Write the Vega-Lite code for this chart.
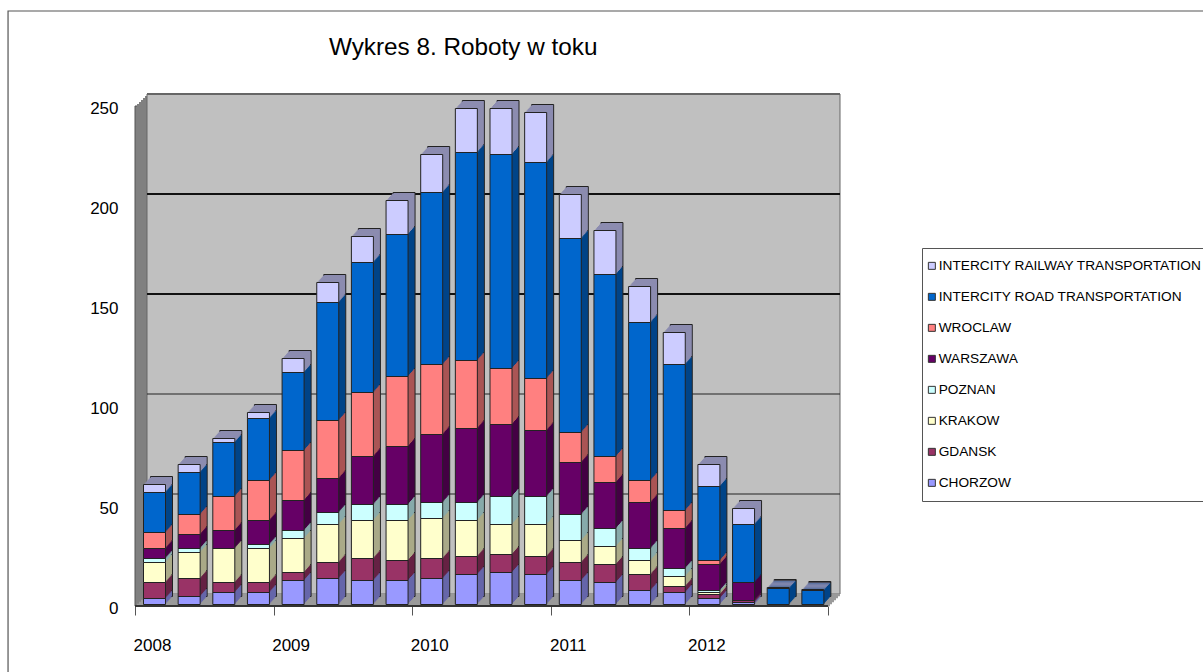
{
"$schema":"https://vega.github.io/schema/vega-lite/v6.json",
"width":693,"height":500,"autosize":"none",
"padding":{"left":135,"top":106,"right":375,"bottom":66},
"background":"white",
"view":{"stroke":null},
"config":{"font":"Liberation Sans"},
"title":{"text":"Wykres 8. Roboty w toku","anchor":"start","frame":"group","font":"Liberation Sans","fontSize":24.3,"fontWeight":"normal","color":"#000","dx":194,"dy":50,"offset":0},
"datasets":{
"wall":[{"a":2008,"b":2013,"c":0,"d":250}],
"frame":[{"a":2007.084,"b":2015.8,"c":-40,"d":297.5}],
"gridThin":[{"v":50},{"v":100}],
"gridThick":[{"v":150},{"v":200}],
"gridTop":[{"v":250}],
"rows":[
{"t":2008,"o":1,"series":"CHORZOW","value":3},{"t":2008,"o":2,"series":"GDANSK","value":8},{"t":2008,"o":3,"series":"KRAKOW","value":10},{"t":2008,"o":4,"series":"POZNAN","value":2},{"t":2008,"o":5,"series":"WARSZAWA","value":5},{"t":2008,"o":6,"series":"WROCLAW","value":8},{"t":2008,"o":7,"series":"INTERCITY ROAD TRANSPORTATION","value":20},{"t":2008,"o":8,"series":"INTERCITY RAILWAY TRANSPORTATION","value":4},
{"t":2008.25,"o":1,"series":"CHORZOW","value":4},{"t":2008.25,"o":2,"series":"GDANSK","value":9},{"t":2008.25,"o":3,"series":"KRAKOW","value":13},{"t":2008.25,"o":4,"series":"POZNAN","value":2},{"t":2008.25,"o":5,"series":"WARSZAWA","value":7},{"t":2008.25,"o":6,"series":"WROCLAW","value":10},{"t":2008.25,"o":7,"series":"INTERCITY ROAD TRANSPORTATION","value":21},{"t":2008.25,"o":8,"series":"INTERCITY RAILWAY TRANSPORTATION","value":4},
{"t":2008.5,"o":1,"series":"CHORZOW","value":6},{"t":2008.5,"o":2,"series":"GDANSK","value":5},{"t":2008.5,"o":3,"series":"KRAKOW","value":17},{"t":2008.5,"o":5,"series":"WARSZAWA","value":9},{"t":2008.5,"o":6,"series":"WROCLAW","value":17},{"t":2008.5,"o":7,"series":"INTERCITY ROAD TRANSPORTATION","value":27},{"t":2008.5,"o":8,"series":"INTERCITY RAILWAY TRANSPORTATION","value":2},
{"t":2008.75,"o":1,"series":"CHORZOW","value":6},{"t":2008.75,"o":2,"series":"GDANSK","value":5},{"t":2008.75,"o":3,"series":"KRAKOW","value":17},{"t":2008.75,"o":4,"series":"POZNAN","value":2},{"t":2008.75,"o":5,"series":"WARSZAWA","value":12},{"t":2008.75,"o":6,"series":"WROCLAW","value":20},{"t":2008.75,"o":7,"series":"INTERCITY ROAD TRANSPORTATION","value":31},{"t":2008.75,"o":8,"series":"INTERCITY RAILWAY TRANSPORTATION","value":3},
{"t":2009,"o":1,"series":"CHORZOW","value":12},{"t":2009,"o":2,"series":"GDANSK","value":4},{"t":2009,"o":3,"series":"KRAKOW","value":17},{"t":2009,"o":4,"series":"POZNAN","value":4},{"t":2009,"o":5,"series":"WARSZAWA","value":15},{"t":2009,"o":6,"series":"WROCLAW","value":25},{"t":2009,"o":7,"series":"INTERCITY ROAD TRANSPORTATION","value":39},{"t":2009,"o":8,"series":"INTERCITY RAILWAY TRANSPORTATION","value":7},
{"t":2009.25,"o":1,"series":"CHORZOW","value":13},{"t":2009.25,"o":2,"series":"GDANSK","value":8},{"t":2009.25,"o":3,"series":"KRAKOW","value":19},{"t":2009.25,"o":4,"series":"POZNAN","value":6},{"t":2009.25,"o":5,"series":"WARSZAWA","value":17},{"t":2009.25,"o":6,"series":"WROCLAW","value":29},{"t":2009.25,"o":7,"series":"INTERCITY ROAD TRANSPORTATION","value":59},{"t":2009.25,"o":8,"series":"INTERCITY RAILWAY TRANSPORTATION","value":10},
{"t":2009.5,"o":1,"series":"CHORZOW","value":12},{"t":2009.5,"o":2,"series":"GDANSK","value":11},{"t":2009.5,"o":3,"series":"KRAKOW","value":19},{"t":2009.5,"o":4,"series":"POZNAN","value":8},{"t":2009.5,"o":5,"series":"WARSZAWA","value":24},{"t":2009.5,"o":6,"series":"WROCLAW","value":32},{"t":2009.5,"o":7,"series":"INTERCITY ROAD TRANSPORTATION","value":65},{"t":2009.5,"o":8,"series":"INTERCITY RAILWAY TRANSPORTATION","value":13},
{"t":2009.75,"o":1,"series":"CHORZOW","value":12},{"t":2009.75,"o":2,"series":"GDANSK","value":10},{"t":2009.75,"o":3,"series":"KRAKOW","value":20},{"t":2009.75,"o":4,"series":"POZNAN","value":8},{"t":2009.75,"o":5,"series":"WARSZAWA","value":29},{"t":2009.75,"o":6,"series":"WROCLAW","value":35},{"t":2009.75,"o":7,"series":"INTERCITY ROAD TRANSPORTATION","value":71},{"t":2009.75,"o":8,"series":"INTERCITY RAILWAY TRANSPORTATION","value":17},
{"t":2010,"o":1,"series":"CHORZOW","value":13},{"t":2010,"o":2,"series":"GDANSK","value":10},{"t":2010,"o":3,"series":"KRAKOW","value":20},{"t":2010,"o":4,"series":"POZNAN","value":8},{"t":2010,"o":5,"series":"WARSZAWA","value":34},{"t":2010,"o":6,"series":"WROCLAW","value":35},{"t":2010,"o":7,"series":"INTERCITY ROAD TRANSPORTATION","value":86},{"t":2010,"o":8,"series":"INTERCITY RAILWAY TRANSPORTATION","value":19},
{"t":2010.25,"o":1,"series":"CHORZOW","value":15},{"t":2010.25,"o":2,"series":"GDANSK","value":9},{"t":2010.25,"o":3,"series":"KRAKOW","value":18},{"t":2010.25,"o":4,"series":"POZNAN","value":9},{"t":2010.25,"o":5,"series":"WARSZAWA","value":37},{"t":2010.25,"o":6,"series":"WROCLAW","value":34},{"t":2010.25,"o":7,"series":"INTERCITY ROAD TRANSPORTATION","value":104},{"t":2010.25,"o":8,"series":"INTERCITY RAILWAY TRANSPORTATION","value":22},
{"t":2010.5,"o":1,"series":"CHORZOW","value":16},{"t":2010.5,"o":2,"series":"GDANSK","value":9},{"t":2010.5,"o":3,"series":"KRAKOW","value":15},{"t":2010.5,"o":4,"series":"POZNAN","value":14},{"t":2010.5,"o":5,"series":"WARSZAWA","value":36},{"t":2010.5,"o":6,"series":"WROCLAW","value":28},{"t":2010.5,"o":7,"series":"INTERCITY ROAD TRANSPORTATION","value":107},{"t":2010.5,"o":8,"series":"INTERCITY RAILWAY TRANSPORTATION","value":23},
{"t":2010.75,"o":1,"series":"CHORZOW","value":15},{"t":2010.75,"o":2,"series":"GDANSK","value":9},{"t":2010.75,"o":3,"series":"KRAKOW","value":16},{"t":2010.75,"o":4,"series":"POZNAN","value":14},{"t":2010.75,"o":5,"series":"WARSZAWA","value":33},{"t":2010.75,"o":6,"series":"WROCLAW","value":26},{"t":2010.75,"o":7,"series":"INTERCITY ROAD TRANSPORTATION","value":108},{"t":2010.75,"o":8,"series":"INTERCITY RAILWAY TRANSPORTATION","value":25},
{"t":2011,"o":1,"series":"CHORZOW","value":12},{"t":2011,"o":2,"series":"GDANSK","value":9},{"t":2011,"o":3,"series":"KRAKOW","value":11},{"t":2011,"o":4,"series":"POZNAN","value":13},{"t":2011,"o":5,"series":"WARSZAWA","value":26},{"t":2011,"o":6,"series":"WROCLAW","value":15},{"t":2011,"o":7,"series":"INTERCITY ROAD TRANSPORTATION","value":97},{"t":2011,"o":8,"series":"INTERCITY RAILWAY TRANSPORTATION","value":22},
{"t":2011.25,"o":1,"series":"CHORZOW","value":11},{"t":2011.25,"o":2,"series":"GDANSK","value":9},{"t":2011.25,"o":3,"series":"KRAKOW","value":9},{"t":2011.25,"o":4,"series":"POZNAN","value":9},{"t":2011.25,"o":5,"series":"WARSZAWA","value":23},{"t":2011.25,"o":6,"series":"WROCLAW","value":13},{"t":2011.25,"o":7,"series":"INTERCITY ROAD TRANSPORTATION","value":91},{"t":2011.25,"o":8,"series":"INTERCITY RAILWAY TRANSPORTATION","value":22},
{"t":2011.5,"o":1,"series":"CHORZOW","value":7},{"t":2011.5,"o":2,"series":"GDANSK","value":8},{"t":2011.5,"o":3,"series":"KRAKOW","value":7},{"t":2011.5,"o":4,"series":"POZNAN","value":6},{"t":2011.5,"o":5,"series":"WARSZAWA","value":23},{"t":2011.5,"o":6,"series":"WROCLAW","value":11},{"t":2011.5,"o":7,"series":"INTERCITY ROAD TRANSPORTATION","value":79},{"t":2011.5,"o":8,"series":"INTERCITY RAILWAY TRANSPORTATION","value":18},
{"t":2011.75,"o":1,"series":"CHORZOW","value":6},{"t":2011.75,"o":2,"series":"GDANSK","value":3},{"t":2011.75,"o":3,"series":"KRAKOW","value":5},{"t":2011.75,"o":4,"series":"POZNAN","value":4},{"t":2011.75,"o":5,"series":"WARSZAWA","value":20},{"t":2011.75,"o":6,"series":"WROCLAW","value":9},{"t":2011.75,"o":7,"series":"INTERCITY ROAD TRANSPORTATION","value":73},{"t":2011.75,"o":8,"series":"INTERCITY RAILWAY TRANSPORTATION","value":16},
{"t":2012,"o":1,"series":"CHORZOW","value":3},{"t":2012,"o":2,"series":"GDANSK","value":2},{"t":2012,"o":3,"series":"KRAKOW","value":1},{"t":2012,"o":4,"series":"POZNAN","value":1},{"t":2012,"o":5,"series":"WARSZAWA","value":13},{"t":2012,"o":6,"series":"WROCLAW","value":2},{"t":2012,"o":7,"series":"INTERCITY ROAD TRANSPORTATION","value":37},{"t":2012,"o":8,"series":"INTERCITY RAILWAY TRANSPORTATION","value":11},
{"t":2012.25,"o":1,"series":"CHORZOW","value":1},{"t":2012.25,"o":2,"series":"GDANSK","value":1},{"t":2012.25,"o":5,"series":"WARSZAWA","value":9},{"t":2012.25,"o":7,"series":"INTERCITY ROAD TRANSPORTATION","value":29},{"t":2012.25,"o":8,"series":"INTERCITY RAILWAY TRANSPORTATION","value":8},
{"t":2012.5,"o":7,"series":"INTERCITY ROAD TRANSPORTATION","value":8},{"t":2012.5,"o":8,"series":"INTERCITY RAILWAY TRANSPORTATION","value":0.5},
{"t":2012.75,"o":7,"series":"INTERCITY ROAD TRANSPORTATION","value":7},{"t":2012.75,"o":8,"series":"INTERCITY RAILWAY TRANSPORTATION","value":0.5}
]},
"layer":[
{"data":{"name":"frame"},"mark":{"type":"rect","fill":null,"stroke":"#555","strokeWidth":1.2},
 "encoding":{"x":{"field":"a","type":"quantitative","scale":{"domain":[2008,2013],"nice":false,"zero":false,"padding":0},
   "axis":{"values":[2008,2009,2010,2011,2012,2013],"title":null,"grid":false,"labelExpr":"datum.value==2013?'':format(datum.value,'d')","labelOffset":17,"labelPadding":22,"labelFontSize":17,"labelFont":"Liberation Sans","labelColor":"#000","tickColor":"#555","tickSize":9,"domain":false,"labelFlush":false}},
  "x2":{"field":"b"},
  "y":{"field":"c","type":"quantitative","scale":{"domain":[0,250],"nice":false,"zero":false},
   "axis":{"values":[0,50,100,150,200,250],"title":null,"grid":false,"ticks":false,"domain":false,"labelPadding":17,"labelOffset":2,"labelFontSize":17,"labelFont":"Liberation Sans","labelColor":"#000"}},
  "y2":{"field":"d"}}},
{"data":{"name":"wall"},"layer":[
 {"mark":{"type":"rect","fill":"#808080","stroke":"#555","strokeWidth":1,"xOffset":0,"x2Offset":0,"yOffset":0,"y2Offset":0}},
 {"mark":{"type":"rect","fill":"#808080","xOffset":2,"x2Offset":2,"yOffset":-2,"y2Offset":-2}},
 {"mark":{"type":"rect","fill":"#808080","xOffset":4,"x2Offset":4,"yOffset":-4,"y2Offset":-4}},
 {"mark":{"type":"rect","fill":"#808080","xOffset":6,"x2Offset":6,"yOffset":-6,"y2Offset":-6}},
 {"mark":{"type":"rect","fill":"#808080","xOffset":8,"x2Offset":8,"yOffset":-8,"y2Offset":-8}},
 {"mark":{"type":"rect","fill":"#808080","xOffset":10,"x2Offset":10,"yOffset":-10,"y2Offset":-10}},
 {"mark":{"type":"rect","fill":"#c0c0c0","stroke":"#666","strokeWidth":1,"xOffset":12,"x2Offset":12,"yOffset":-12,"y2Offset":-12}}
],"encoding":{"x":{"field":"a","type":"quantitative"},"x2":{"field":"b"},"y":{"field":"c","type":"quantitative"},"y2":{"field":"d"}}},
{"data":{"name":"wall"},"layer":[
 {"mark":{"type":"rule","stroke":"#9a9a9a","strokeWidth":2.4,"xOffset":12,"x2Offset":12,"yOffset":-11,"y2Offset":-11}},
 {"mark":{"type":"rule","stroke":"#9a9a9a","strokeWidth":2.4,"xOffset":10,"x2Offset":10,"yOffset":-9,"y2Offset":-9}},
 {"mark":{"type":"rule","stroke":"#9a9a9a","strokeWidth":2.4,"xOffset":8,"x2Offset":8,"yOffset":-7,"y2Offset":-7}},
 {"mark":{"type":"rule","stroke":"#9a9a9a","strokeWidth":2.4,"xOffset":6,"x2Offset":6,"yOffset":-5,"y2Offset":-5}},
 {"mark":{"type":"rule","stroke":"#9a9a9a","strokeWidth":2.4,"xOffset":4,"x2Offset":4,"yOffset":-3,"y2Offset":-3}},
 {"mark":{"type":"rule","stroke":"#9a9a9a","strokeWidth":2.4,"xOffset":2,"x2Offset":2,"yOffset":-1,"y2Offset":-1}},
 {"mark":{"type":"rule","stroke":"#333","strokeWidth":2,"xOffset":0,"x2Offset":0,"yOffset":0,"y2Offset":0}}
],"encoding":{"x":{"field":"a","type":"quantitative"},"x2":{"field":"b"},"y":{"field":"c","type":"quantitative"}}},
{"data":{"name":"gridThin"},"mark":{"type":"rule","stroke":"#222","strokeWidth":1,"xOffset":12,"x2Offset":12,"yOffset":-12,"y2Offset":-12},
 "encoding":{"x":{"datum":2008},"x2":{"datum":2013},"y":{"field":"v","type":"quantitative"}}},
{"data":{"name":"gridThick"},"mark":{"type":"rule","stroke":"#111","strokeWidth":2,"xOffset":12,"x2Offset":12,"yOffset":-12,"y2Offset":-12},
 "encoding":{"x":{"datum":2008},"x2":{"datum":2013},"y":{"field":"v","type":"quantitative"}}},
{"data":{"name":"gridTop"},"mark":{"type":"rule","stroke":"#666","strokeWidth":2,"xOffset":12,"x2Offset":12,"yOffset":-12,"y2Offset":-12},
 "encoding":{"x":{"datum":2008},"x2":{"datum":2013},"y":{"field":"v","type":"quantitative"}}},
{"data":{"name":"rows"},
 "transform":[{"stack":"value","groupby":["t"],"sort":[{"field":"o","order":"ascending"}],"as":["y0","y1"]}],
 "encoding":{"x":{"field":"t","type":"quantitative"},"y":{"field":"y1","type":"quantitative"},"y2":{"field":"y0"}},
 "layer":[
 {"mark":{"type":"bar","orient":"vertical","size":22,"stroke":"#222","strokeWidth":1,"xOffset":26.5,"yOffset":-9.5,"y2Offset":-9.5},"encoding":{"fill":{"field":"series","legend":null,"scale":{"domain":["INTERCITY RAILWAY TRANSPORTATION","INTERCITY ROAD TRANSPORTATION","WROCLAW","WARSZAWA","POZNAN","KRAKOW","GDANSK","CHORZOW"],"range":["#8c8cb0","#004488","#aa5555","#440044","#88aaaa","#aaaa88","#662244","#6666aa"]}}}},
 {"mark":{"type":"bar","orient":"vertical","size":22,"xOffset":25.5,"yOffset":-8.4,"y2Offset":-8.4},"encoding":{"fill":{"field":"series","legend":null}}},
 {"mark":{"type":"bar","orient":"vertical","size":22,"xOffset":24.5,"yOffset":-7.2,"y2Offset":-7.2},"encoding":{"fill":{"field":"series","legend":null}}},
 {"mark":{"type":"bar","orient":"vertical","size":22,"xOffset":23.5,"yOffset":-6.1,"y2Offset":-6.1},"encoding":{"fill":{"field":"series","legend":null}}},
 {"mark":{"type":"bar","orient":"vertical","size":22,"xOffset":22.5,"yOffset":-4.9,"y2Offset":-4.9},"encoding":{"fill":{"field":"series","legend":null}}},
 {"mark":{"type":"bar","orient":"vertical","size":22,"xOffset":21.5,"yOffset":-3.8,"y2Offset":-3.8},"encoding":{"fill":{"field":"series","legend":null}}},
 {"mark":{"type":"bar","orient":"vertical","size":22,"xOffset":20.5,"yOffset":-2.6,"y2Offset":-2.6},"encoding":{"fill":{"field":"series","legend":null}}},
 {"mark":{"type":"bar","orient":"vertical","size":22,"stroke":"#222","strokeWidth":1,"xOffset":19.5,"yOffset":-1.5,"y2Offset":-1.5},
  "encoding":{"color":{"field":"series","type":"nominal","scale":{"domain":["INTERCITY RAILWAY TRANSPORTATION","INTERCITY ROAD TRANSPORTATION","WROCLAW","WARSZAWA","POZNAN","KRAKOW","GDANSK","CHORZOW"],"range":["#ccccff","#0066cc","#ff8080","#660066","#ccffff","#ffffcc","#993366","#9999ff"]},
   "legend":{"title":null,"orient":"none","legendX":787,"legendY":142,"padding":11,"symbolOffset":-8,"labelOffset":0,"strokeColor":"#555","fillColor":"#fff","symbolType":"square","symbolSize":49,"symbolStrokeColor":"#333","symbolStrokeWidth":1,"labelFont":"Liberation Sans","labelFontSize":13.7,"labelColor":"#000","labelLimit":400,"rowPadding":16}}}}
 ]}
],
"resolve":{"legend":{"color":"independent"}}
}
